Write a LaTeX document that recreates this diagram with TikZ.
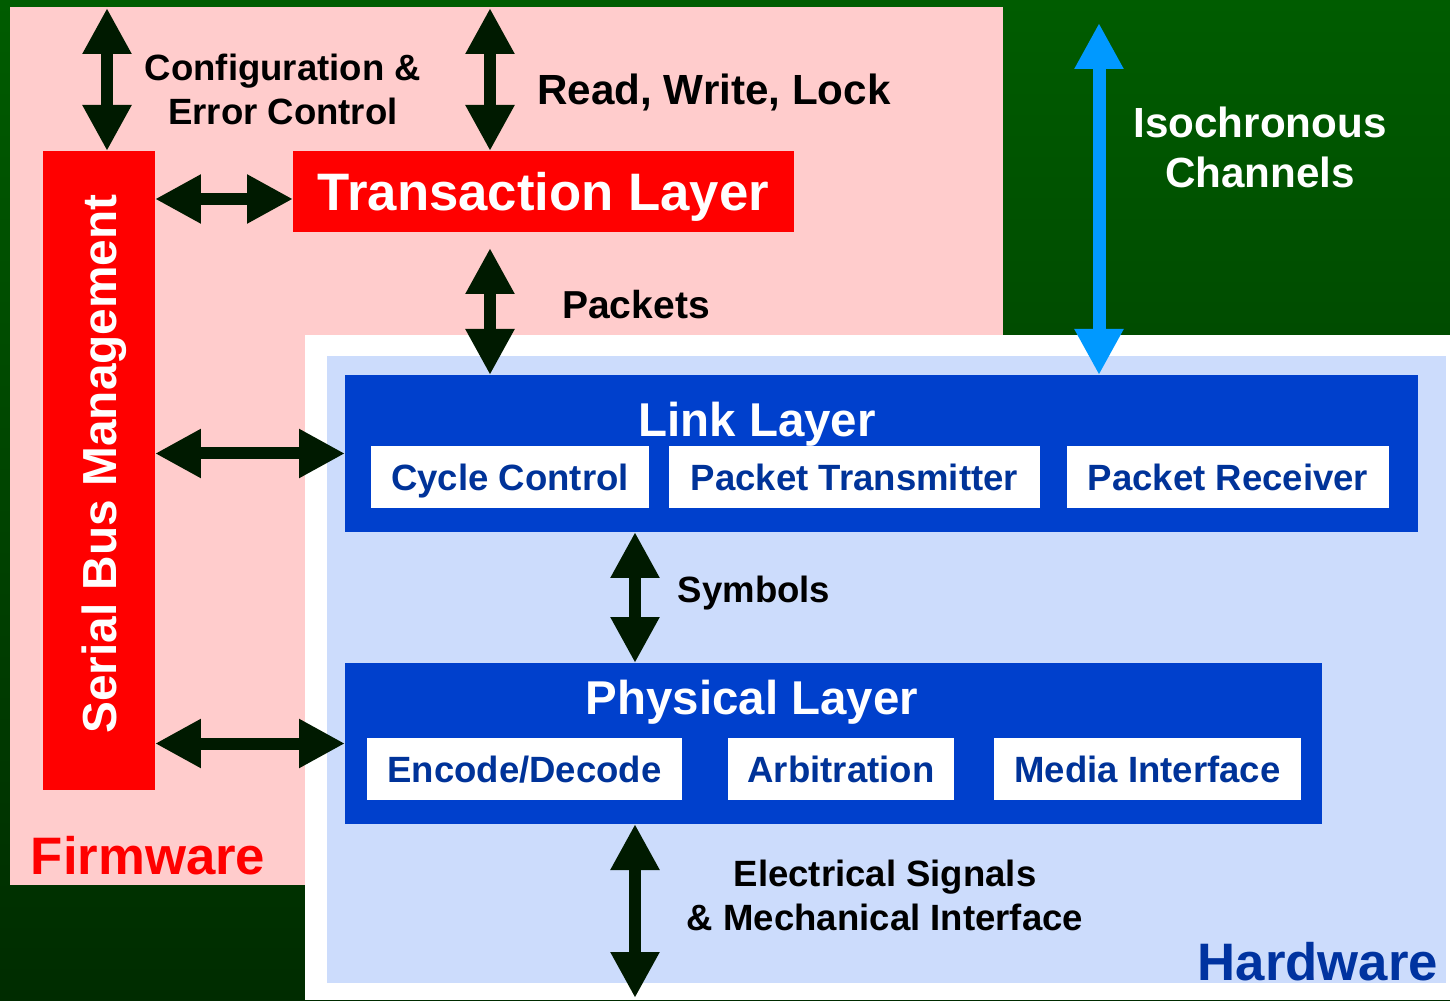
\documentclass[tikz,border=0pt]{standalone}
\usepackage{fontspec}
\setmainfont{Liberation Sans}
\usetikzlibrary{positioning}
\usetikzlibrary{arrows.meta}

\definecolor{bgtop}{RGB}{0,92,0}
\definecolor{bgbot}{RGB}{0,44,0}
\definecolor{fwpink}{RGB}{255,204,204}
\definecolor{hwblue}{RGB}{204,220,252}
\definecolor{layerblue}{RGB}{0,64,204}
\definecolor{subtext}{RGB}{0,51,153}
\definecolor{arrowgreen}{RGB}{0,26,0}
\definecolor{isoblue}{RGB}{0,153,255}
\definecolor{hwtext}{RGB}{0,51,160}

\tikzset{
  redbox/.style={fill=red, text=white, anchor=north west, inner sep=0pt, outer sep=0pt},
  layerbox/.style={fill=layerblue, anchor=north west, inner sep=0pt, outer sep=0pt},
  subbox/.style={fill=white, text=subtext, minimum height=6.2mm, inner sep=0pt, outer sep=0pt,
    text height=7.4pt, text depth=0pt, font=\fontsize{10.4}{12.5}\selectfont\bfseries},
  layertitle/.style={text=white, inner sep=0pt, text height=9.7pt, text depth=0pt,
    font=\fontsize{13.5}{16}\selectfont\bfseries},
  lbl/.style={align=center, inner sep=0pt, font=\fontsize{10.4}{12.5}\selectfont\bfseries},
  biglbl/.style={inner sep=0pt, text height=10.7pt, text depth=0pt,
    font=\fontsize{15}{18}\selectfont\bfseries},
  dblarrow/.style={draw=arrowgreen, line width=1.2mm,
    {Triangle[width=4.6mm,length=4.6mm]}-{Triangle[width=4.6mm,length=4.6mm]}},
}

\begin{document}
\begin{tikzpicture}[x=0.1mm,y=-0.1mm]
% areas
\shade[top color=bgtop, bottom color=bgbot] (0,0) rectangle (1450,1000);
\fill[fwpink] (10,7) rectangle (1003,885);
\fill[white] (305,335) rectangle (1450,1000);
\fill[hwblue] (327,356) rectangle (1446,983);

% firmware side
\node[redbox, minimum width=11.2mm, minimum height=63.9mm] (sbm) at (43,151) {};
\node[rotate=90, text=white, inner sep=0pt, text height=9.7pt, text depth=0pt,
  font=\fontsize{13.6}{16}\selectfont\bfseries] (sbmlbl) at (99,464) {Serial Bus Management};
\node[redbox, minimum width=50.1mm, minimum height=8.1mm, text height=10.7pt, text depth=0pt,
  font=\fontsize{15}{18}\selectfont\bfseries] (trans) at (293,151) {Transaction Layer};

% link layer
\node[layerbox, minimum width=107.3mm, minimum height=15.7mm] (link) at (345,375) {};
\node[layertitle] (linklbl) at (757,419) {Link Layer};
\node[subbox, minimum width=27.8mm, anchor=north west] (cyc) at (371,446) {Cycle Control};
\node[subbox, minimum width=37.1mm, right=2mm of cyc] (ptx) {Packet Transmitter};
\node[subbox, minimum width=32.2mm, right=2.7mm of ptx] (prx) {Packet Receiver};

% physical layer
\node[layerbox, minimum width=97.7mm, minimum height=16.1mm] (phys) at (345,663) {};
\node[layertitle] (physlbl) at (752,697) {Physical Layer};
\node[subbox, minimum width=31.5mm, anchor=north west] (enc) at (367,738) {Encode/Decode};
\node[subbox, minimum width=22.6mm, right=4.6mm of enc] (arb) {Arbitration};
\node[subbox, minimum width=30.7mm, right=4mm of arb] (media) {Media Interface};

% labels
\node[lbl] (cfg) at (283,89) {Configuration \&\\Error Control};
\node[lbl, text height=8.6pt, text depth=0pt, font=\fontsize{12}{14}\selectfont\bfseries] (rwl) at (714,89) {Read, Write, Lock};
\node[lbl, text height=7.9pt, text depth=0pt, font=\fontsize{11.1}{13}\selectfont\bfseries] (pkts) at (636,305) {Packets};
\node[lbl, text=white, font=\fontsize{12}{14.2}\selectfont\bfseries] (iso) at (1260,147) {Isochronous\\Channels};
\node[lbl, text height=7.4pt, text depth=0pt] (syms) at (754,589) {Symbols};
\node[lbl] (elec) at (885,895) {Electrical Signals\\\& Mechanical Interface};
\node[biglbl, text=red] (fw) at (148,856) {Firmware};
\node[biglbl, text=hwtext] (hw) at (1318,962) {Hardware};

% connectors
\coordinate (cfgtop) at (107,8);
\coordinate (rwtop) at (490,8);
\coordinate (isotop) at (1099,23);
\coordinate (busbot) at (635,998);
\draw[dblarrow] (cfgtop) -- (cfgtop |- sbm.north);
\draw[dblarrow] (rwtop) -- (rwtop |- trans.north);
\draw[dblarrow, shorten <=1.6mm] (rwtop |- trans.south) -- (rwtop |- link.north);
\draw[dblarrow] (sbm.east |- 0,199) -- (trans.west |- 0,199);
\draw[dblarrow] (sbm.east |- link.west) -- (link.west);
\draw[dblarrow] (sbm.east |- phys.west) -- (phys.west);
\draw[dblarrow] (busbot |- link.south) -- (busbot |- phys.north);
\draw[dblarrow] (busbot |- phys.south) -- (busbot);
\draw[dblarrow, draw=isoblue, line width=1.3mm] (isotop) -- (isotop |- link.north);
\end{tikzpicture}
\end{document}
